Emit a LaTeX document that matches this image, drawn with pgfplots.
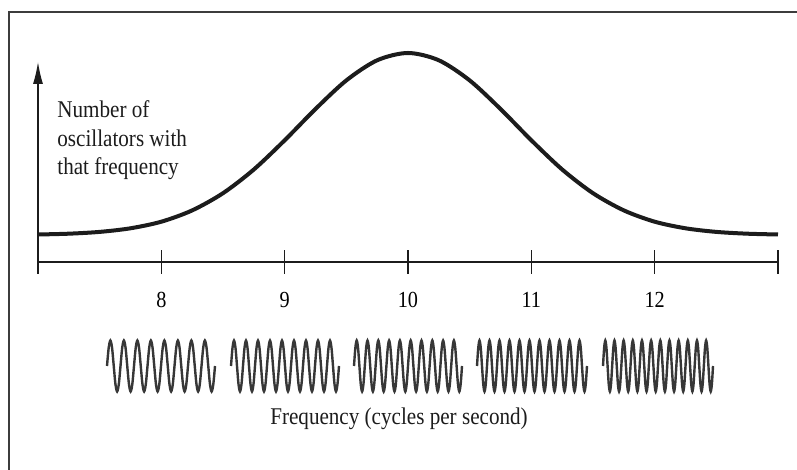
\documentclass[border=0pt]{standalone}
\usepackage{fontspec}
\setmainfont[FakeStretch=0.88]{Liberation Serif}
\usepackage{pgfplots}
\usepackage{pgfplotstable}
\pgfplotsset{compat=1.18}
\usetikzlibrary{arrows.meta}

\definecolor{ink}{RGB}{28,28,28}
\definecolor{waveink}{RGB}{55,55,55}
\definecolor{frame}{RGB}{60,60,60}

% distribution of oscillator frequencies
\pgfplotstableread[row sep=\\]{
f n \\
7.00 27.5 \\ 7.25 28.3 \\ 7.50 30.1 \\ 7.75 33.7 \\
8.00 40.3 \\ 8.25 51.6 \\ 8.50 68.8 \\ 8.75 92.5 \\
9.00 121.7 \\ 9.25 153.0 \\ 9.50 181.6 \\ 9.75 201.7 \\
10.00 209.0 \\
10.25 201.7 \\ 10.50 181.6 \\ 10.75 153.0 \\ 11.00 121.7 \\
11.25 92.5 \\ 11.50 68.8 \\ 11.75 51.6 \\ 12.00 40.3 \\
12.25 33.7 \\ 12.50 30.1 \\ 12.75 28.3 \\ 13.00 27.5 \\
}\curve

% one wave train, eight samples per cycle, twelve cycles
\pgfplotstableread[row sep=\\]{
x y \\
0 0 \\ 1 0.71 \\ 2 1 \\ 3 0.71 \\ 4 0 \\ 5 -0.71 \\ 6 -1 \\ 7 -0.71 \\
8 0 \\ 9 0.71 \\ 10 1 \\ 11 0.71 \\ 12 0 \\ 13 -0.71 \\ 14 -1 \\ 15 -0.71 \\
16 0 \\ 17 0.71 \\ 18 1 \\ 19 0.71 \\ 20 0 \\ 21 -0.71 \\ 22 -1 \\ 23 -0.71 \\
24 0 \\ 25 0.71 \\ 26 1 \\ 27 0.71 \\ 28 0 \\ 29 -0.71 \\ 30 -1 \\ 31 -0.71 \\
32 0 \\ 33 0.71 \\ 34 1 \\ 35 0.71 \\ 36 0 \\ 37 -0.71 \\ 38 -1 \\ 39 -0.71 \\
40 0 \\ 41 0.71 \\ 42 1 \\ 43 0.71 \\ 44 0 \\ 45 -0.71 \\ 46 -1 \\ 47 -0.71 \\
48 0 \\ 49 0.71 \\ 50 1 \\ 51 0.71 \\ 52 0 \\ 53 -0.71 \\ 54 -1 \\ 55 -0.71 \\
56 0 \\ 57 0.71 \\ 58 1 \\ 59 0.71 \\ 60 0 \\ 61 -0.71 \\ 62 -1 \\ 63 -0.71 \\
64 0 \\ 65 0.71 \\ 66 1 \\ 67 0.71 \\ 68 0 \\ 69 -0.71 \\ 70 -1 \\ 71 -0.71 \\
72 0 \\ 73 0.71 \\ 74 1 \\ 75 0.71 \\ 76 0 \\ 77 -0.71 \\ 78 -1 \\ 79 -0.71 \\
80 0 \\ 81 0.71 \\ 82 1 \\ 83 0.71 \\ 84 0 \\ 85 -0.71 \\ 86 -1 \\ 87 -0.71 \\
88 0 \\ 89 0.71 \\ 90 1 \\ 91 0.71 \\ 92 0 \\ 93 -0.71 \\ 94 -1 \\ 95 -0.71 \\
96 0 \\
}\wave

\pgfplotsset{
  burst/.style={scale only axis, width=54pt, height=25.5pt,
    xmin=0, ymin=-1, ymax=1, hide axis, clip=false, anchor=south west},
  burstline/.style={smooth, waveink, line width=1.2pt, no marks},
}

\begin{document}
\begin{tikzpicture}
\useasboundingbox (0,0) rectangle (398.5pt,235pt);
\draw[frame, line width=1pt] (4.5pt,0pt) -- (4.5pt,229pt) -- (398.5pt,229pt);

\begin{axis}[
  scale only axis, width=370pt, height=100pt,
  at={(19pt,104pt)}, anchor=south west,
  xmin=7, xmax=13, ymin=0, ymax=200,
  clip=false,
  axis x line*=bottom, axis y line*=left,
  x axis line style={ink, line width=0.65pt},
  y axis line style={ink, line width=0.65pt, -{Latex[length=11pt,width=5pt]}},
  xtick={7,8,9,10,11,12,13},
  xticklabels={,8,9,10,11,12,},
  ytick=\empty,
  tick align=center,
  major tick length=12pt,
  tick style={ink, line width=0.65pt},
  xticklabel style={font=\fontsize{11.5}{13}\selectfont, yshift=-5.5pt},
  /pgf/number format/assume math mode=true,
]
\addplot[smooth, ink, line width=2pt, no marks] table[x=f, y=n] {\curve};
\end{axis}

\begin{axis}[burst, at={(53.5pt,39.25pt)}, xmax=64]
\addplot[burstline, restrict x to domain=0:64] table[x=x, y=y] {\wave};
\end{axis}
\begin{axis}[burst, at={(115.5pt,39.25pt)}, xmax=72]
\addplot[burstline, restrict x to domain=0:72] table[x=x, y=y] {\wave};
\end{axis}
\begin{axis}[burst, at={(177pt,39.25pt)}, xmax=80]
\addplot[burstline, restrict x to domain=0:80] table[x=x, y=y] {\wave};
\end{axis}
\begin{axis}[burst, at={(238.5pt,39.25pt)}, xmax=88, width=55pt]
\addplot[burstline, restrict x to domain=0:88] table[x=x, y=y] {\wave};
\end{axis}
\begin{axis}[burst, at={(301.5pt,39.25pt)}, xmax=96, width=55pt]
\addplot[burstline, restrict x to domain=0:96] table[x=x, y=y] {\wave};
\end{axis}

\begin{scope}[every node/.style={inner sep=0pt, anchor=base west, font=\fontsize{12}{14}\selectfont, text=ink}]
\node at (28.5pt,176pt) {Number of};
\node at (28.5pt,161.5pt) {oscillators with};
\node at (28.5pt,147.5pt) {that frequency};
\end{scope}
\node[inner sep=0pt, anchor=base, font=\fontsize{12}{14}\selectfont, text=ink] at (199.5pt,22.5pt) {Frequency (cycles per second)};
\end{tikzpicture}
\end{document}
